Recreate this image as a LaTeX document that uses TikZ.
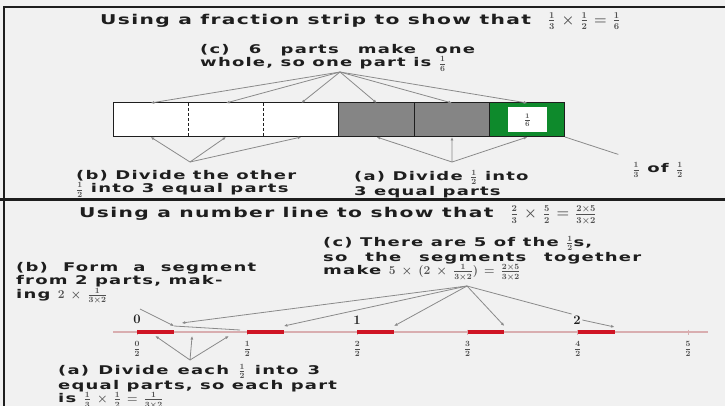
\documentclass[tikz,border=0pt]{standalone}
\usepackage{fontspec}
\usetikzlibrary{positioning,arrows.meta}
\newfontfamily\widesans[FakeStretch=1.5,LetterSpace=10]{DejaVu Sans}
\definecolor{PaperGray}{HTML}{F1F1F1}
\definecolor{InkGray}{HTML}{1E1E1E}
\definecolor{WireGray}{HTML}{8A8A8A}
\definecolor{StripGray}{HTML}{858585}
\definecolor{StripGreen}{HTML}{0E8A2C}
\definecolor{SegRed}{HTML}{CF1424}
\definecolor{LinePink}{HTML}{D9AEB0}
\definecolor{FracGray}{HTML}{505050}
\newcommand{\fr}[2]{\hbox{\color{FracGray}$\frac{#1}{#2}$}}
\newcommand{\op}[1]{\hspace{6pt}\hbox{\color{FracGray}$#1$}\hspace{6pt}}
\newcommand{\jline}[2]{\makebox[#1][s]{#2}}

\begin{document}
\begin{tikzpicture}[x=1pt,y=-1pt,
      txt/.style={font=\fontsize{12}{13.5}\selectfont\widesans\bfseries\boldmath,
                  text=InkGray,align=left,inner sep=0pt},
      head/.style={txt,font=\fontsize{13.5}{15}\selectfont\widesans\bfseries\boldmath},
      part/.style={minimum width=75.33pt,minimum height=34pt,inner sep=0pt,outer sep=0pt},
      con/.style={-{Latex[length=3.5pt,width=3pt]},WireGray,line width=0.8pt},
      wire/.style={WireGray,line width=0.8pt},
      frame/.style={InkGray,line width=2pt},
      numline/.style={LinePink,line width=1.8pt},
      seg/.style={SegRed,line width=4pt},
      digit/.style={font=\fontsize{13}{13}\selectfont\bfseries,text=InkGray,inner sep=1.5pt},
      frac/.style={font=\fontsize{12}{12}\selectfont\boldmath,text=FracGray,inner sep=0pt}]
    \useasboundingbox (0,0) rectangle (725,406);
    \fill[PaperGray] (0,0) rectangle (725,406);
    \draw[frame] (725,7) -| (4,200);
    \draw[frame,line width=3pt] (0,200) -- (725,200);
    \draw[frame] (4,200) -- (4,406);

    % fraction strip
    \node[head,anchor=west] (title1) at (100,21)
      {Using a fraction strip to show that\ \ \fr13\op{\times}\fr12\op{=}\fr16};
    \foreach \i/\c in {1/white,2/white,3/white,4/StripGray,5/StripGray,6/StripGreen}
      \node[part,fill=\c] (p\i) at ({113+75.33*(\i-0.5)},120) {};
    \draw[InkGray,line width=1pt] (p1.north west) rectangle (p6.south east);
    \foreach \i in {1,2}
      \draw[InkGray,line width=1.2pt,dash pattern=on 3pt off 2pt] (p\i.north east) -- (p\i.south east);
    \foreach \i in {3,4,5}
      \draw[InkGray,line width=1pt] (p\i.north east) -- (p\i.south east);
    \node[fill=white,minimum width=39pt,minimum height=25pt,inner sep=0pt,
          font=\fontsize{10}{10}\selectfont\boldmath] (sixth) at (p6) {\fr16};

    \node[txt,anchor=north west] (ctop) at (200,44)
      {\jline{275pt}{(c) 6 parts make one}\\whole, so one part is \fr16};
    \coordinate (capex) at (340,72);
    \foreach \i in {1,...,6}
      \draw[con] (capex) -- (p\i.north);

    \coordinate (bapex) at (190,162);
    \foreach \i in {1,2,3}
      \draw[con] (bapex) -- (p\i.south);
    \coordinate (aapex) at (452,162);
    \foreach \i in {4,5,6}
      \draw[con] (aapex) -- (p\i.south);

    \node[txt,anchor=north west] (btop) at (76,170) {(b) Divide the other\\\fr12 into 3 equal parts};
    \node[txt,anchor=north west] (atop) at (354,170) {(a) Divide \fr12 into\\3 equal parts};
    \node[txt] (ofhalf) at (658,170) {\fr13 of \fr12};
    \draw[wire] ([xshift=-14pt,yshift=8pt]ofhalf.north west) -- (p6.south east);

    % number line
    \node[head,anchor=west] (title2) at (79,215)
      {Using a number line to show that\ \ \fr23\op{\times}\fr52\op{=}\fr{2\times5}{3\times2}};
    \node[txt,anchor=north west] (ctext) at (323,236)
      {(c) There are 5 of the \fr12s,\\
       \jline{318pt}{so the segments together}\\
       make\ \hbox{\color{FracGray}$5$}\op{\times}\hbox{\color{FracGray}$(2$}\op{\times}\fr{1}{3\times2}\hbox{\color{FracGray}$)$}\op{=}\fr{2\times5}{3\times2}};
    \node[txt,anchor=north west] (btext) at (16,262)
      {\jline{240pt}{(b) Form a segment}\\
       from 2 parts, mak-\\
       ing \hbox{\color{FracGray}$2$}\op{\times}\fr{1}{3\times2}};

    \draw[numline] (113,332) -- (708,332);
    \foreach \k in {0,...,5} {
      \coordinate (h\k) at ({137+110.2*\k},332);
      \draw[LinePink,line width=1pt] ([yshift=2.5pt]h\k) -- ([yshift=-2.5pt]h\k);
      \node[frac] (f\k) at ({137+110.2*\k},349) {$\frac{\k}{2}$};
    }
    \foreach \k in {0,...,4}
      \draw[seg] (h\k) -- ++(36.7,0) coordinate (e\k);
    \node[digit] (n0) at (137,319) {0};
    \node[digit] (n1) at (357,320) {1};
    \node[digit] (n2) at (577,320) {2};

    \coordinate (segapex) at (467,286);
    \draw[con] (segapex) -- ([xshift=8pt,yshift=9pt]e0);
    \foreach \k in {1,2,3}
      \draw[con] (segapex) -- ([yshift=6pt]e\k);
    \draw[wire] (segapex) -- (n2.north west);
    \draw[con] (n2.east) -- ([yshift=5pt]e4);

    \coordinate (bfrom) at (140,309);
    \coordinate (bto) at (174,326);
    \coordinate (bbar) at (240,330);
    \draw[con] (bfrom) -- (bto);
    \draw[wire] (bto) -- (bbar);

    \coordinate (partapex) at (190,360);
    \foreach \j in {1,2,3} {
      \coordinate (m\j) at ({137+36.73*(\j-0.5)},336);
      \draw[con] (partapex) -- (m\j);
    }
    \node[txt,anchor=north west] (atext) at (58,364)
      {\jline{262pt}{(a) Divide each \fr12 into 3}\\
       equal parts, so each part\\
       is \fr13\op{\times}\fr12\op{=}\fr{1}{3\times2}};
  \end{tikzpicture}
\end{document}
